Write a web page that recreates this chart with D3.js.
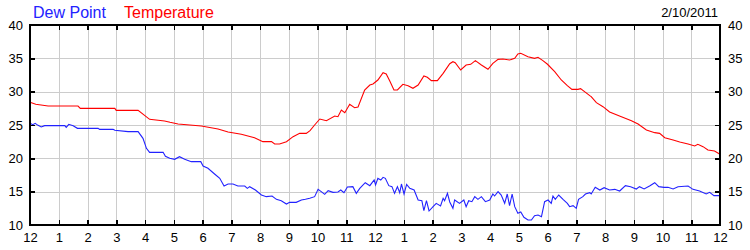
<!DOCTYPE html>
<html>
<head>
<meta charset="utf-8">
<script src="https://cdn.jsdelivr.net/npm/d3@7"></script>
<style>
  body { margin: 0; background: #fff; }
  svg { display: block; font-family: "Liberation Sans", Arial, sans-serif; }
  .grid line { stroke: #cccccc; stroke-width: 1; shape-rendering: crispEdges; }
  .grid path { display: none; }
  .axis path { display: none; }
  .axis line { stroke: #000; stroke-width: 1.5; shape-rendering: crispEdges; }
  .axis text { font-size: 13px; fill: #000; }
</style>
</head>
<body>
<script>
// temperature readings (hours since midnight, deg)
const tempHours = [0, 0.2, 0.63, 1.67, 1.75, 2.95, 3.0, 3.76, 4.16, 4.68, 4.87, 5.15, 5.96, 6.54, 6.89, 7.35, 7.81, 8.1, 8.4, 8.51, 8.68, 8.92, 9.15, 9.38, 9.61, 9.74, 9.9, 10.08, 10.31, 10.6, 10.71, 10.83, 10.95, 11.12, 11.29, 11.41, 11.64, 11.82, 11.93, 12.1, 12.28, 12.39, 12.51, 12.66, 12.78, 12.97, 13.15, 13.32, 13.5, 13.7, 13.82, 13.96, 14.17, 14.37, 14.6, 14.71, 14.79, 14.98, 15.17, 15.33, 15.49, 15.7, 15.93, 16.1, 16.28, 16.45, 16.68, 16.86, 16.97, 17.07, 17.32, 17.55, 17.67, 17.84, 17.99, 18.25, 18.48, 18.69, 18.85, 19.06, 19.15, 19.47, 19.52, 19.7, 19.93, 20.16, 20.57, 20.92, 21.15, 21.44, 21.73, 21.9, 22.08, 22.37, 22.6, 22.89, 23.12, 23.23, 23.41, 23.58, 23.81, 24];
const tempValues = [28.4, 28.1, 27.85, 27.85, 27.5, 27.5, 27.2, 27.2, 25.85, 25.6, 25.4, 25.15, 24.85, 24.4, 23.95, 23.6, 23.1, 22.5, 22.5, 22.15, 22.15, 22.5, 23.25, 23.75, 23.75, 24.15, 25.0, 25.9, 25.65, 26.35, 26.25, 27.25, 26.85, 28.1, 27.6, 27.7, 30.25, 31.0, 31.15, 31.75, 32.85, 32.65, 31.65, 30.25, 30.25, 31.1, 30.9, 30.5, 31.0, 32.35, 32.15, 31.65, 31.65, 32.75, 34.2, 34.5, 34.35, 33.25, 34.0, 34.1, 34.65, 34.0, 33.35, 34.25, 34.85, 34.9, 34.75, 35.0, 35.65, 35.75, 35.25, 35.0, 35.15, 34.65, 34.15, 33.0, 31.75, 30.9, 30.35, 30.35, 30.45, 29.4, 29.25, 28.35, 27.75, 26.95, 26.25, 25.65, 25.15, 24.25, 23.85, 23.75, 23.1, 22.75, 22.45, 22.15, 21.85, 22.1, 21.75, 21.25, 21.1, 20.6];

// dew point readings (hours since midnight, deg)
const dewHours = [0, 0.1, 0.18, 0.28, 0.39, 0.51, 1.21, 1.26, 1.35, 1.5, 1.65, 2.37, 2.42, 2.89, 2.95, 3.41, 3.76, 3.93, 4.05, 4.16, 4.63, 4.71, 4.86, 5.03, 5.2, 5.38, 5.61, 5.94, 6.02, 6.19, 6.42, 6.6, 6.75, 6.89, 7.06, 7.23, 7.47, 7.56, 7.64, 7.84, 8.05, 8.22, 8.42, 8.57, 8.74, 8.92, 9.03, 9.26, 9.44, 9.58, 9.73, 9.9, 10.02, 10.13, 10.25, 10.37, 10.54, 10.71, 10.81, 10.92, 11.04, 11.23, 11.35, 11.47, 11.66, 11.82, 11.97, 12.02, 12.1, 12.2, 12.28, 12.36, 12.48, 12.59, 12.68, 12.78, 12.86, 12.92, 13.01, 13.1, 13.21, 13.36, 13.5, 13.63, 13.7, 13.79, 13.88, 14.02, 14.13, 14.28, 14.37, 14.42, 14.52, 14.6, 14.71, 14.77, 14.94, 15.09, 15.17, 15.26, 15.37, 15.47, 15.58, 15.7, 15.84, 15.99, 16.1, 16.16, 16.28, 16.39, 16.51, 16.6, 16.68, 16.77, 16.86, 16.97, 17.07, 17.18, 17.32, 17.44, 17.55, 17.67, 17.79, 17.9, 18.02, 18.13, 18.19, 18.27, 18.39, 18.54, 18.69, 18.77, 18.89, 19.0, 19.08, 19.23, 19.32, 19.47, 19.52, 19.66, 19.82, 19.97, 20.16, 20.34, 20.51, 20.71, 20.89, 21.09, 21.2, 21.36, 21.55, 21.73, 21.87, 22.05, 22.19, 22.37, 22.54, 22.89, 23.06, 23.29, 23.52, 23.64, 23.79, 24];
const dewValues = [25.25, 25.05, 25.25, 24.95, 24.7, 24.9, 24.9, 24.65, 25.1, 24.9, 24.5, 24.5, 24.35, 24.35, 24.2, 24.0, 24.0, 23.0, 21.5, 20.9, 20.9, 20.3, 20.0, 19.85, 20.25, 19.85, 19.5, 19.5, 18.85, 18.5, 17.65, 17.0, 15.85, 16.15, 16.15, 15.85, 15.85, 15.5, 15.75, 15.25, 14.5, 14.25, 14.35, 13.85, 13.65, 13.15, 13.4, 13.4, 13.75, 13.85, 14.0, 14.25, 15.35, 15.0, 14.6, 15.15, 14.9, 14.95, 15.25, 14.85, 15.7, 15.75, 14.75, 15.5, 16.35, 15.9, 16.75, 16.0, 17.0, 16.75, 17.15, 17.0, 15.9, 15.75, 14.75, 15.75, 14.85, 16.15, 14.65, 16.1, 15.5, 15.25, 13.75, 13.65, 12.15, 13.65, 12.1, 12.75, 13.25, 12.85, 14.0, 13.65, 14.75, 13.45, 12.5, 13.75, 13.25, 13.75, 12.75, 13.65, 13.5, 14.25, 13.85, 14.25, 13.5, 13.75, 14.65, 14.35, 15.0, 14.5, 13.25, 14.65, 12.9, 14.65, 12.75, 11.75, 11.95, 11.15, 10.75, 10.75, 11.4, 11.5, 11.25, 13.5, 13.75, 13.25, 14.35, 13.85, 14.5, 13.85, 13.25, 12.75, 12.9, 12.5, 13.85, 14.25, 14.65, 14.85, 14.65, 15.65, 15.25, 15.6, 15.25, 15.35, 15.1, 15.9, 15.75, 15.4, 15.75, 15.4, 15.85, 16.35, 15.75, 15.65, 15.65, 15.4, 15.75, 15.85, 15.35, 15.1, 14.65, 14.9, 14.4, 14.4];

const hourTicks = [0, 1, 2, 3, 4, 5, 6, 7, 8, 9, 10, 11, 12, 13, 14, 15, 16, 17, 18, 19, 20, 21, 22, 23, 24];
const hourLabels = ["12", "1", "2", "3", "4", "5", "6", "7", "8", "9", "10", "11", "12", "1", "2", "3", "4", "5", "6", "7", "8", "9", "10", "11", "12"];
const yTicks = [10, 15, 20, 25, 30, 35, 40];
const dateLabel = "2/10/2011";

const width = 750, height = 250;
const plotLeft = 30, plotRight = 720, plotTop = 25, plotBottom = 225;

const svg = d3.select("body").append("svg")
    .attr("width", width)
    .attr("height", height);

const x = d3.scaleLinear().domain([0, 24]).range([plotLeft, plotRight]);
const y = d3.scaleLinear().domain([10, 40]).range([plotBottom, plotTop]);

// grid
svg.append("g").attr("class", "grid")
    .attr("transform", `translate(0,${plotBottom})`)
    .call(d3.axisBottom(x).tickValues(hourTicks).tickSize(-(plotBottom - plotTop)).tickFormat(""));
svg.append("g").attr("class", "grid")
    .attr("transform", `translate(${plotLeft},0)`)
    .call(d3.axisLeft(y).tickValues(yTicks).tickSize(-(plotRight - plotLeft)).tickFormat(""));

const line = d3.line()
    .x(d => x(d[0]))
    .y(d => y(d[1]));

svg.append("path")
    .datum(dewHours.map((h, i) => [h, dewValues[i]]))
    .attr("fill", "none")
    .attr("stroke", "#2222ff")
    .attr("stroke-width", 1.1)
    .attr("d", line);

svg.append("path")
    .datum(tempHours.map((h, i) => [h, tempValues[i]]))
    .attr("fill", "none")
    .attr("stroke", "#ff0000")
    .attr("stroke-width", 1.1)
    .attr("d", line);

// axes, ticks point inward
svg.append("g").attr("class", "axis")
    .attr("transform", `translate(0,${plotBottom})`)
    .call(d3.axisBottom(x).tickValues(hourTicks).tickSize(-5).tickPadding(8)
        .tickFormat((d, i) => hourLabels[i]));
svg.append("g").attr("class", "axis")
    .attr("transform", `translate(0,${plotTop})`)
    .call(d3.axisTop(x).tickValues(hourTicks).tickSize(-5).tickFormat(""));
svg.append("g").attr("class", "axis")
    .attr("transform", `translate(${plotLeft},0)`)
    .call(d3.axisLeft(y).tickValues(yTicks).tickSize(-5).tickPadding(7));
svg.append("g").attr("class", "axis")
    .attr("transform", `translate(${plotRight},0)`)
    .call(d3.axisRight(y).tickValues(yTicks).tickSize(-5).tickPadding(8));

// frame
svg.append("rect")
    .attr("x", plotLeft).attr("y", plotTop)
    .attr("width", plotRight - plotLeft).attr("height", plotBottom - plotTop)
    .attr("fill", "none")
    .attr("stroke", "#000")
    .attr("stroke-width", 2);

// legend and date
svg.append("text")
    .attr("x", 33).attr("y", 18)
    .attr("font-size", "16px")
    .attr("fill", "#2222ff")
    .text("Dew Point");
svg.append("text")
    .attr("x", 124).attr("y", 18)
    .attr("font-size", "16px")
    .attr("fill", "#ff0000")
    .text("Temperature");
svg.append("text")
    .attr("x", 718).attr("y", 17)
    .attr("text-anchor", "end")
    .attr("font-size", "13px")
    .attr("fill", "#000")
    .text(dateLabel);
</script>
</body>
</html>
